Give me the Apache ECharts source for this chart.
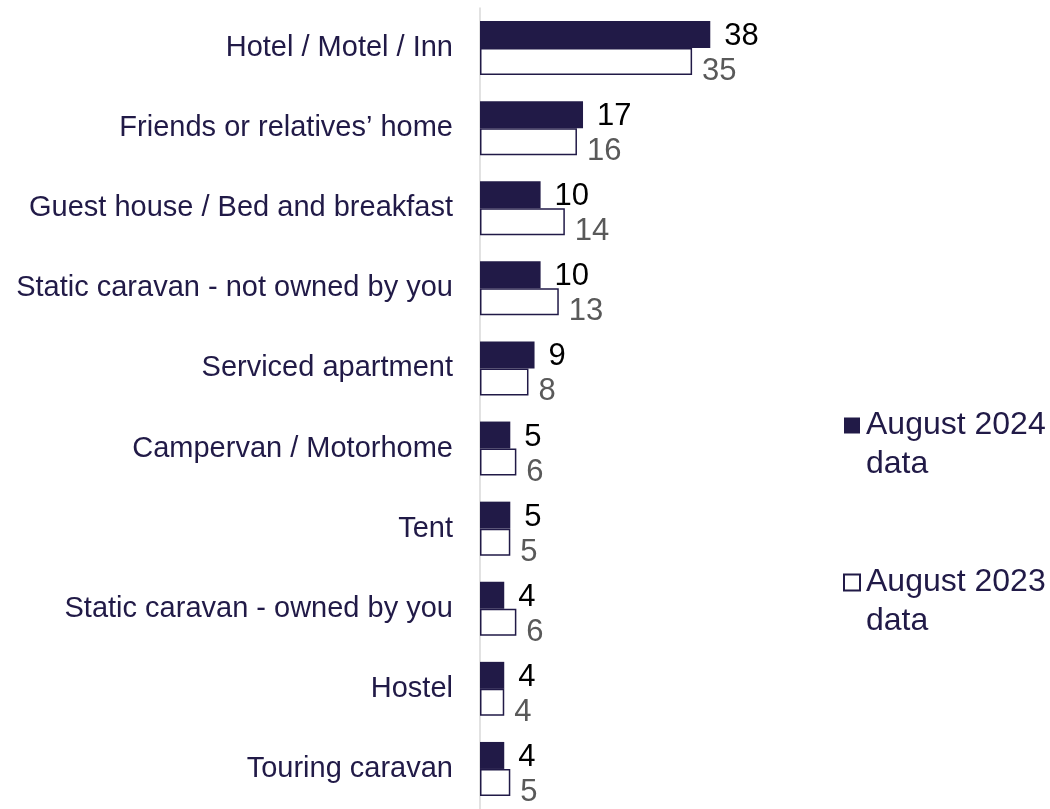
<!DOCTYPE html>
<html>
<head>
<meta charset="utf-8">
<script src="https://cdn.jsdelivr.net/npm/echarts@6/dist/echarts.min.js"></script>
<style>
  html, body { margin: 0; padding: 0; background: #fff; }
  #chart { width: 1050px; height: 809px; }
</style>
</head>
<body>
<div id="chart"></div>
<script>
const categories = [
  'Hotel / Motel / Inn',
  'Friends or relatives\u2019 home',
  'Guest house / Bed and breakfast',
  'Static caravan - not owned by you',
  'Serviced apartment',
  'Campervan / Motorhome',
  'Tent',
  'Static caravan - owned by you',
  'Hostel',
  'Touring caravan'
]
const aug2024 = [38, 17, 10, 10, 9, 5, 5, 4, 4, 4]
const aug2023 = [35, 16, 14, 13, 8, 6, 5, 6, 4, 5]
const seriesNames = ['August 2024\ndata', 'August 2023\ndata']

const navy = '#211a47'
const font = 'Liberation Sans, Arial, sans-serif'

const chart = echarts.init(document.getElementById('chart'))

chart.setOption({
  animation: false,
  grid: { left: 480, top: 8, width: 303, height: 804 },
  legend: {
    orient: 'vertical',
    left: 838,
    top: 362,
    itemWidth: 16,
    itemHeight: 16,
    itemGap: 40,
    icon: 'rect',
    data: seriesNames,
    // blank first line so the marker sits beside the first text line
    formatter: name => '\n' + name,
    textStyle: {
      fontFamily: font,
      fontSize: 32,
      color: navy,
      lineHeight: 39,
      padding: [0, 0, 0, 1]
    }
  },
  xAxis: {
    type: 'value',
    min: 0,
    max: 50,
    show: false
  },
  yAxis: {
    type: 'category',
    inverse: true,
    data: categories,
    axisLine: { lineStyle: { color: '#d9d9d9', width: 1.5 } },
    axisTick: { length: 8, lineStyle: { color: '#d9d9d9', width: 1.5 } },
    axisLabel: {
      margin: 27,
      fontFamily: font,
      fontSize: 29,
      color: navy
    }
  },
  series: [
    {
      name: seriesNames[0],
      type: 'bar',
      data: aug2024,
      barWidth: 27,
      barGap: '0%',
      itemStyle: { color: navy },
      label: {
        show: true,
        position: 'right',
        distance: 14,
        offset: [0, 2],
        fontFamily: font,
        fontSize: 31,
        color: '#000'
      }
    },
    {
      name: seriesNames[1],
      type: 'bar',
      data: aug2023,
      barWidth: 27,
      barGap: '0%',
      itemStyle: { color: '#fff', borderColor: navy, borderWidth: 1.5 },
      label: {
        show: true,
        position: 'right',
        distance: 10,
        offset: [0, 10],
        fontFamily: font,
        fontSize: 31,
        color: '#595959'
      }
    }
  ]
})
</script>
</body>
</html>
